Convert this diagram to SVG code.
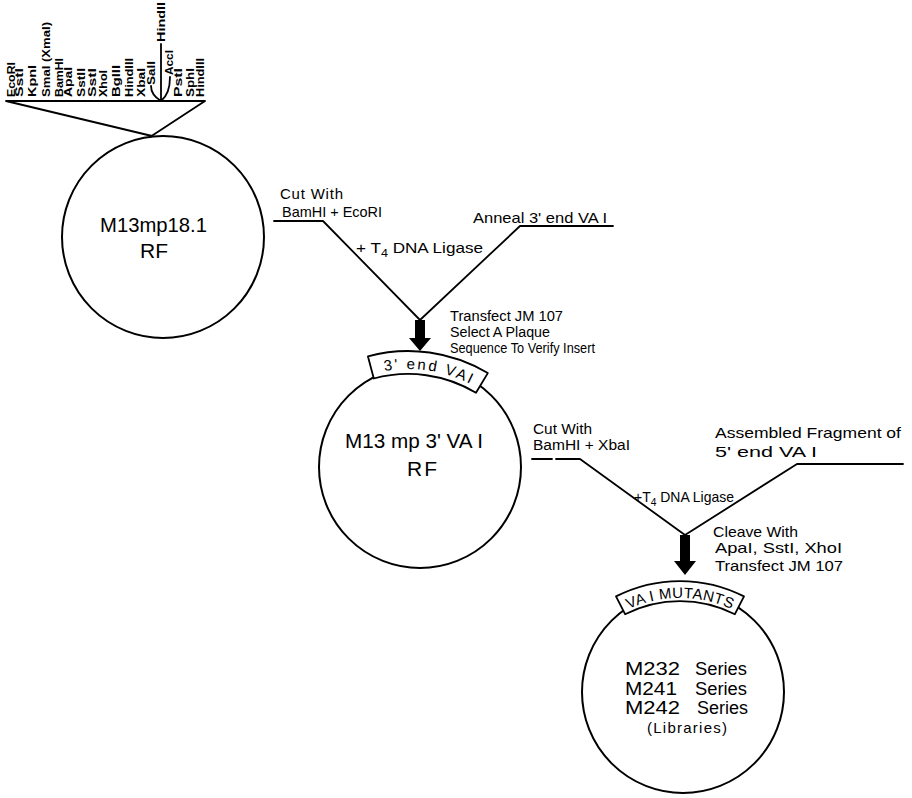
<svg xmlns="http://www.w3.org/2000/svg" width="912" height="798" viewBox="0 0 912 798">
<style>
 .ln{fill:none;stroke:#000;stroke-width:1.8;stroke-linecap:round;stroke-linejoin:round}
 .ring{fill:none;stroke:#000;stroke-width:2}
 .band{fill:#fff;stroke:#000;stroke-width:1.8;stroke-linejoin:round}
 .arw{fill:#000;stroke:none}
 text{font-family:"Liberation Sans",Arial,sans-serif;fill:#000}
 .enz{font-size:11px;font-weight:bold}
 .lbl{font-size:15px}
 .lbs{font-size:14px}
 .big{font-size:21px}
 .ser{font-size:18px}
 .sm{font-size:15px}
 .bt{font-size:15px}
</style>
<defs>
 <path id="arc1" d="M377.2,372.5 A137,137 0 0 1 476.5,387.4"/>
 <path id="arc2" d="M625.6,610.5 A124,124 0 0 1 734.4,610.5"/>
</defs>
<rect width="912" height="798" fill="#fff"/>

<g id="connectors">
 <path class="ln" d="M274,221 H323 L420,320 L520,226 H613"/>
 <polygon class="arw" points="415,320 425,320 425,338 431,338 420,351 409,338 415,338"/>
 <path class="ln" d="M532,459 H552 M556,459 H580 L685,535 L797,464 H903"/>
 <polygon class="arw" points="680,535 690,535 690,561 696,561 685,575 674,561 680,561"/>
</g>

<g id="m13mp18">
 <circle class="ring" cx="163" cy="237" r="101"/>
 <text class="big" x="100" y="232" textLength="107" lengthAdjust="spacingAndGlyphs">M13mp18.1</text>
 <text class="big" x="140" y="258">RF</text>
</g>

<g id="polylinker">
 <path class="ln" d="M6,101 H205 M6,101 L152,136 M205,101 L150,137"/>
 <path class="ln" d="M161,44 V101 M151,86 Q151,95 161,101 M170,77 Q170,94 161,101"/>
 <text class="enz" transform="translate(14.5,97) rotate(-90)" textLength="35" lengthAdjust="spacingAndGlyphs">EcoRI</text>
 <text class="enz" transform="translate(22.5,97) rotate(-90)" textLength="29" lengthAdjust="spacingAndGlyphs">SstI</text>
 <text class="enz" transform="translate(36,97) rotate(-90)" textLength="32" lengthAdjust="spacingAndGlyphs">KpnI</text>
 <text class="enz" transform="translate(50,97) rotate(-90)" textLength="75" lengthAdjust="spacingAndGlyphs">SmaI (XmaI)</text>
 <text class="enz" transform="translate(62.5,97) rotate(-90)" textLength="39" lengthAdjust="spacingAndGlyphs">BamHI</text>
 <text class="enz" transform="translate(72,97) rotate(-90)" textLength="30" lengthAdjust="spacingAndGlyphs">ApaI</text>
 <text class="enz" transform="translate(85,97) rotate(-90)" textLength="29" lengthAdjust="spacingAndGlyphs">SstII</text>
 <text class="enz" transform="translate(96,97) rotate(-90)" textLength="29" lengthAdjust="spacingAndGlyphs">SstI</text>
 <text class="enz" transform="translate(107,97) rotate(-90)" textLength="27" lengthAdjust="spacingAndGlyphs">XhoI</text>
 <text class="enz" transform="translate(120,97) rotate(-90)" textLength="32" lengthAdjust="spacingAndGlyphs">BglII</text>
 <text class="enz" transform="translate(133,97) rotate(-90)" textLength="39" lengthAdjust="spacingAndGlyphs">HindIII</text>
 <text class="enz" transform="translate(145,97) rotate(-90)" textLength="29" lengthAdjust="spacingAndGlyphs">XbaI</text>
 <text class="enz" transform="translate(155,85) rotate(-90)" textLength="24" lengthAdjust="spacingAndGlyphs">SalI</text>
 <text class="enz" transform="translate(165,42) rotate(-90)" textLength="40" lengthAdjust="spacingAndGlyphs">HindII</text>
 <text class="enz" transform="translate(173,75) rotate(-90)" textLength="25" lengthAdjust="spacingAndGlyphs">AccI</text>
 <text class="enz" transform="translate(182,97) rotate(-90)" textLength="29" lengthAdjust="spacingAndGlyphs">PstI</text>
 <text class="enz" transform="translate(194,97) rotate(-90)" textLength="29" lengthAdjust="spacingAndGlyphs">SphI</text>
 <text class="enz" transform="translate(204,97) rotate(-90)" textLength="39" lengthAdjust="spacingAndGlyphs">HindIII</text>
</g>

<g id="m13mp3va">
 <circle class="ring" cx="420" cy="467" r="101"/>
 <path class="band" d="M367.9,356.3 A155,155 0 0 1 487.8,373.1 L476.0,392.8 A132,132 0 0 0 373.8,378.5 Z"/>
 <text class="bt"><textPath href="#arc1" startOffset="50%" text-anchor="middle" textLength="88">3' end  VAI</textPath></text>
 <text class="big" x="345" y="448" textLength="138" lengthAdjust="spacingAndGlyphs">M13 mp 3' VA I</text>
 <text class="big" x="407" y="476" textLength="30">RF</text>
</g>

<g id="mutants">
 <circle class="ring" cx="683" cy="692" r="101"/>
 <path class="band" d="M616.0,596.4 A141,141 0 0 1 744.0,596.4 L734.9,614.2 A121,121 0 0 0 625.1,614.2 Z"/>
 <text class="bt"><textPath href="#arc2" startOffset="50%" text-anchor="middle" textLength="106">VA I MUTANTS</textPath></text>
 <text class="ser" x="625" y="675" textLength="55" lengthAdjust="spacingAndGlyphs">M232</text>
 <text class="ser" x="695" y="675" textLength="52" lengthAdjust="spacingAndGlyphs">Series</text>
 <text class="ser" x="625" y="695" textLength="52" lengthAdjust="spacingAndGlyphs">M241</text>
 <text class="ser" x="695" y="695" textLength="52" lengthAdjust="spacingAndGlyphs">Series</text>
 <text class="ser" x="625" y="714" textLength="55" lengthAdjust="spacingAndGlyphs">M242</text>
 <text class="ser" x="697" y="714" textLength="51" lengthAdjust="spacingAndGlyphs">Series</text>
 <text class="sm" x="647" y="733" textLength="80">(Libraries)</text>
</g>

<g id="labels">
 <text class="lbl" x="280" y="199" textLength="63">Cut With</text>
 <text class="lbl" x="282" y="217" textLength="100" lengthAdjust="spacingAndGlyphs">BamHI + EcoRI</text>
 <text class="lbl" x="473" y="223" textLength="134" lengthAdjust="spacingAndGlyphs">Anneal 3' end VA I</text>
 <text class="lbl" x="356" y="253" textLength="127" lengthAdjust="spacingAndGlyphs">+ T<tspan dy="4" font-size="11">4</tspan><tspan dy="-4"> DNA Ligase</tspan></text>
 <text class="lbs" x="450" y="321" textLength="113" lengthAdjust="spacingAndGlyphs">Transfect JM 107</text>
 <text class="lbs" x="450" y="337" textLength="100" lengthAdjust="spacingAndGlyphs">Select A Plaque</text>
 <text class="lbs" x="450" y="353" textLength="145" lengthAdjust="spacingAndGlyphs">Sequence To Verify Insert</text>
 <text class="lbs" x="533" y="434" textLength="59" lengthAdjust="spacingAndGlyphs">Cut With</text>
 <text class="lbs" x="533" y="450" textLength="97" lengthAdjust="spacingAndGlyphs">BamHI + XbaI</text>
 <text class="lbl" x="715" y="438" textLength="186" lengthAdjust="spacingAndGlyphs">Assembled Fragment of</text>
 <text class="lbl" x="715" y="457" textLength="102" lengthAdjust="spacingAndGlyphs">5' end VA I</text>
 <text class="lbl" x="634" y="502" textLength="100" lengthAdjust="spacingAndGlyphs">+T<tspan dy="4" font-size="11">4</tspan><tspan dy="-4"> DNA Ligase</tspan></text>
 <text class="lbl" x="713" y="537" textLength="85" lengthAdjust="spacingAndGlyphs">Cleave With</text>
 <text class="lbl" x="715" y="553" textLength="127" lengthAdjust="spacingAndGlyphs">ApaI, SstI, XhoI</text>
 <text class="lbl" x="715" y="571" textLength="128" lengthAdjust="spacingAndGlyphs">Transfect JM 107</text>
</g>
</svg>
